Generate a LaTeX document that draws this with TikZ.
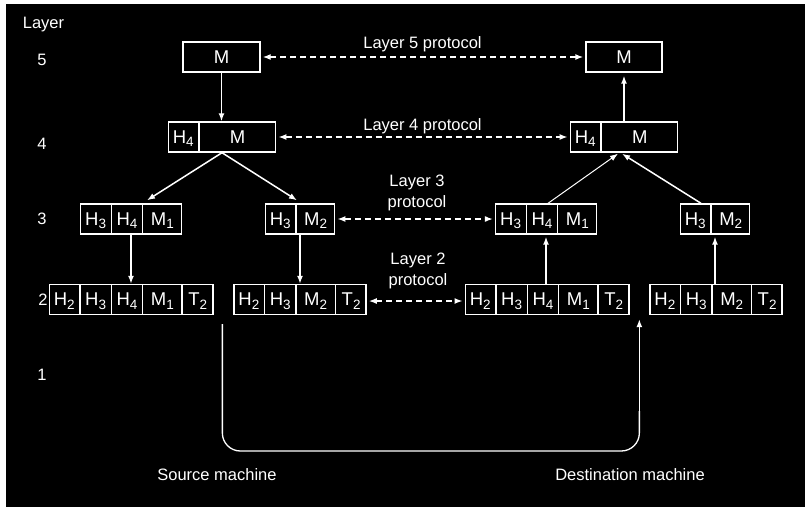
\documentclass[tikz,border=0pt]{standalone}
\usepackage{fontspec}
\setmainfont{Liberation Sans}
\usetikzlibrary{arrows.meta,shapes.multipart,calc}

% one field of a frame: fixed width, fixed 30pt height, text centred
\newcommand\cellbox[2]{\makebox[#1pt]{\rule[-9pt]{0pt}{30pt}#2}}
% field name with its layer index set low and small
\newcommand\fld[2]{#1\raisebox{-3.5pt}{\fontsize{13.5}{14}\selectfont #2}}

\begin{document}
\begin{tikzpicture}[x=1pt,y=-1pt,
  every node/.style={text=white, font=\fontsize{16.5}{21}\selectfont},
  pdu/.style={draw=white, line width=1.4pt, inner sep=0pt,
              font=\fontsize{18.5}{21}\selectfont},
  frame/.style={pdu, rectangle split, rectangle split horizontal},
  tip/.tip={Latex[length=8pt,width=6pt]},
  flow/.style={color=white, line width=1.5pt, -tip},
  peer/.style={color=white, line width=1.4pt, dash pattern=on 6pt off 4pt,
               tip-tip, shorten <=2pt, shorten >=2pt},
  lbl/.style={anchor=base},
  proto/.style={align=center, anchor=center}
]
% background
\fill[white] (0,0) rectangle (805,507);
\fill[black] (6,4) rectangle (805,507);

% layer numbers
\node[lbl] (hdr) at (43.5,28) {Layer};
\node[lbl] (n5) at (42,65) {5};
\node[lbl] (n4) at (42,149) {4};
\node[lbl] (n3) at (42,224) {3};
\node[lbl] (n2) at (43,305) {2};
\node[lbl] (n1) at (42,380) {1};

% source machine stack
\node[pdu, minimum width=77pt, minimum height=30pt] (s5) at (221.5,57) {M};
\node[frame, rectangle split parts=2] (s4) at (222,137)
  {\cellbox{30}{\fld H4}\nodepart{two}\cellbox{76}{M}};
\node[frame, rectangle split parts=3] (s3a) at (131,219)
  {\cellbox{30}{\fld H3}\nodepart{two}\cellbox{30}{\fld H4}\nodepart{three}\cellbox{38}{\fld M1}};
\node[frame, rectangle split parts=2] (s3b) at (300,219)
  {\cellbox{30}{\fld H3}\nodepart{two}\cellbox{38}{\fld M2}};
\node[frame, rectangle split parts=5] (s2a) at (131,299.5)
  {\cellbox{30}{\fld H2}\nodepart{two}\cellbox{30}{\fld H3}\nodepart{three}\cellbox{30}{\fld H4}\nodepart{four}\cellbox{38}{\fld M1}\nodepart{five}\cellbox{30}{\fld T2}};
\node[frame, rectangle split parts=4] (s2b) at (300,299.5)
  {\cellbox{30}{\fld H2}\nodepart{two}\cellbox{30}{\fld H3}\nodepart{three}\cellbox{38}{\fld M2}\nodepart{four}\cellbox{30}{\fld T2}};

% destination machine stack
\node[pdu, minimum width=76pt, minimum height=30pt] (d5) at (624,57) {M};
\node[frame, rectangle split parts=2] (d4) at (624,137)
  {\cellbox{30}{\fld H4}\nodepart{two}\cellbox{76}{M}};
\node[frame, rectangle split parts=3] (d3a) at (546,219)
  {\cellbox{30}{\fld H3}\nodepart{two}\cellbox{30}{\fld H4}\nodepart{three}\cellbox{38}{\fld M1}};
\node[frame, rectangle split parts=2] (d3b) at (715,219)
  {\cellbox{30}{\fld H3}\nodepart{two}\cellbox{38}{\fld M2}};
\node[frame, rectangle split parts=5] (d2a) at (547,299.5)
  {\cellbox{30}{\fld H2}\nodepart{two}\cellbox{30}{\fld H3}\nodepart{three}\cellbox{30}{\fld H4}\nodepart{four}\cellbox{38}{\fld M1}\nodepart{five}\cellbox{30}{\fld T2}};
\node[frame, rectangle split parts=4] (d2b) at (716,299.5)
  {\cellbox{30}{\fld H2}\nodepart{two}\cellbox{30}{\fld H3}\nodepart{three}\cellbox{38}{\fld M2}\nodepart{four}\cellbox{30}{\fld T2}};

% peer protocol labels
\node[lbl] (p5) at (422.5,48) {Layer 5 protocol};
\node[lbl] (p4) at (422.5,130) {Layer 4 protocol};
\node[proto] (p3) at (417,193) {Layer 3\\protocol};
\node[proto] (p2) at (418,271) {Layer 2\\protocol};
\node[lbl] (src) at (217,480) {Source machine};
\node[lbl] (dst) at (630,480) {Destination machine};

% going down on the source side
\draw[flow] (s5.south) -- (s5.south |- s4.north);
\draw[flow] (s4.south) -- ([xshift=16pt,yshift=3pt]s3a.north);
\draw[flow] (s4.south) -- ([xshift=-3pt,yshift=3pt]s3b.north);
\draw[flow] (s3a.south) -- (s3a.south |- s2a.north);
\draw[flow] (s3b.south) -- (s3b.south |- s2b.north);

% going up on the destination side
\draw[flow, shorten >=2pt] (d3a.south |- d2a.north) -- (d3a.south);
\draw[flow, shorten >=2pt] (d3b.south |- d2b.north) -- (d3b.south);
\draw[flow, line width=1pt] ([xshift=2pt]d3a.north) -- ([xshift=-6pt,yshift=-1pt]d4.south);
\draw[flow] ([xshift=-14pt]d3b.north) -- ([xshift=-2pt,yshift=-1pt]d4.south);
\draw[flow, shorten >=3pt] (d4.north) -- (d4.north |- d5.south);

% physical medium: rounded run along the bottom, then straight up into the receiver
\coordinate (txout) at ($(s2a.south east)!0.5!(s2b.south west)+(-1,9)$);
\coordinate (rxin) at ($(d2a.south east)!0.5!(d2b.south west)+(0,4)$);
\coordinate (floor) at (0,451);
\coordinate (rxrise) at ($(rxin |- floor)+(0,-40)$);
\draw[white, line width=1.3pt, rounded corners=18pt]
  (txout) -- (txout |- floor) -- (rxin |- floor) -- (rxrise);
\draw[flow, line width=1.3pt] (rxrise) -- (rxin);

% virtual peer communication
\draw[peer] (s5.east) -- (d5.west);
\draw[peer] (s4.east) -- (d4.west);
\draw[peer] (s3b.east) -- (d3a.west);
\draw[peer] ([yshift=-1.5pt]s2b.east) -- ([yshift=-1.5pt]d2a.west);
\end{tikzpicture}
\end{document}
